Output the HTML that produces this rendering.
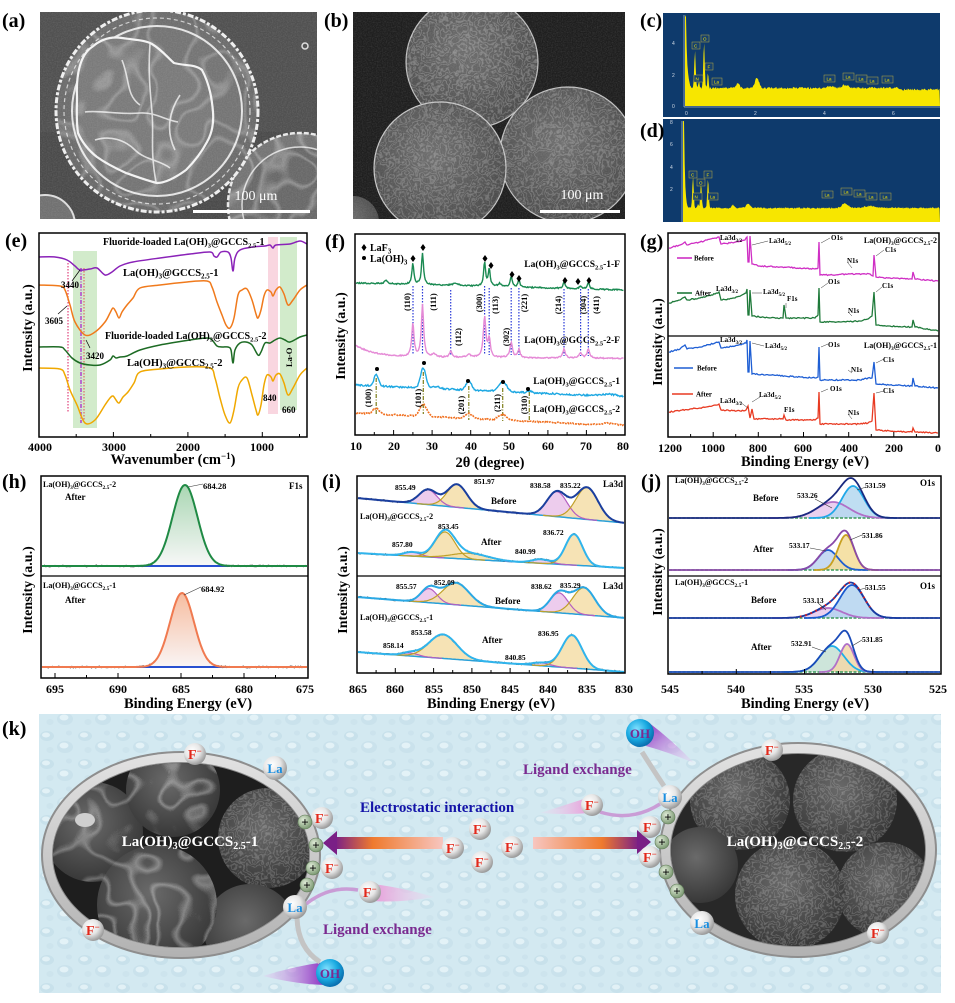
<!DOCTYPE html>
<html><head><meta charset="utf-8">
<style>
html,body{margin:0;padding:0;background:#fff;}
svg{display:block;}
.t{font-family:"Liberation Serif",serif;font-weight:bold;}
</style></head>
<body>
<svg id="fig" width="955" height="1003" viewBox="0 0 955 1003" xmlns="http://www.w3.org/2000/svg">
<defs>
<filter id="wrA" x="0" y="0" width="1" height="1" filterUnits="objectBoundingBox">
 <feTurbulence type="fractalNoise" baseFrequency="0.02" numOctaves="2" seed="4" result="n"/>
 <feColorMatrix in="n" type="matrix" values="0 0 0 0 1  0 0 0 0 1  0 0 0 0 1  1 0 0 0 0" result="m"/>
 <feComponentTransfer in="m" result="r"><feFuncA type="table" tableValues="0 0 0 0 0 0 0 0 .9 0 0 0 .9 0 0 0 0 0 0 0 0"/></feComponentTransfer>
 <feComposite in="r" in2="SourceGraphic" operator="in"/>
</filter>
<filter id="wrB" x="0" y="0" width="1" height="1" filterUnits="objectBoundingBox">
 <feTurbulence type="fractalNoise" baseFrequency="0.08" numOctaves="3" seed="9" result="n"/>
 <feColorMatrix in="n" type="matrix" values="0 0 0 0 1  0 0 0 0 1  0 0 0 0 1  1 0 0 0 0" result="m"/>
 <feComponentTransfer in="m" result="r"><feFuncA type="table" tableValues="0 0 0 0 0 0 0 .7 0 0 .7 0 0 .7 0 0 0 0 0 0 0"/></feComponentTransfer>
 <feComposite in="r" in2="SourceGraphic" operator="in"/>
</filter>
<filter id="grain" x="0" y="0" width="1" height="1" filterUnits="objectBoundingBox">
 <feTurbulence type="fractalNoise" baseFrequency="0.8" numOctaves="1" seed="2" result="n"/>
 <feColorMatrix in="n" type="matrix" values="0 0 0 0 1  0 0 0 0 1  0 0 0 0 1  0 0 0 .2 -0.07" result="m"/>
 <feComposite in="m" in2="SourceGraphic" operator="in"/>
</filter>
<radialGradient id="discA" cx="50%" cy="45%" r="55%"><stop offset="0" stop-color="#7e7e7e"/><stop offset="1" stop-color="#686868"/></radialGradient>
<radialGradient id="discB" cx="45%" cy="40%" r="60%"><stop offset="0" stop-color="#6e6e6e"/><stop offset="1" stop-color="#4a4a4a"/></radialGradient>
<radialGradient id="discK" cx="45%" cy="40%" r="60%"><stop offset="0" stop-color="#6a6a6a"/><stop offset="1" stop-color="#383838"/></radialGradient>
<radialGradient id="ball" cx="38%" cy="35%" r="65%"><stop offset="0" stop-color="#ffffff"/><stop offset="0.55" stop-color="#e6e6e6"/><stop offset="1" stop-color="#9c9c9c"/></radialGradient>
<radialGradient id="plus" cx="38%" cy="35%" r="65%"><stop offset="0" stop-color="#e0ecd8"/><stop offset="1" stop-color="#7d9a74"/></radialGradient>
<radialGradient id="ohb" cx="38%" cy="35%" r="65%"><stop offset="0" stop-color="#7fe0ff"/><stop offset="0.6" stop-color="#18a8e0"/><stop offset="1" stop-color="#0a70b0"/></radialGradient>
<linearGradient id="ring" x1="0" y1="0" x2="0" y2="1"><stop offset="0" stop-color="#e2e2e2"/><stop offset="1" stop-color="#b2b2b2"/></linearGradient>
<linearGradient id="arrL" x1="0" y1="0" x2="1" y2="0"><stop offset="0" stop-color="#7a1f86"/><stop offset="0.35" stop-color="#ef7a2e"/><stop offset="1" stop-color="#f7c6c0"/></linearGradient>
<linearGradient id="arrR" x1="0" y1="0" x2="1" y2="0"><stop offset="0" stop-color="#f7c6c0"/><stop offset="0.65" stop-color="#ef7a2e"/><stop offset="1" stop-color="#7a1f86"/></linearGradient>
<linearGradient id="tailPR" x1="0" y1="0" x2="1" y2="0"><stop offset="0" stop-color="#e79ad8"/><stop offset="1" stop-color="#f3d4ee" stop-opacity="0.2"/></linearGradient>
<linearGradient id="tailPL" x1="1" y1="0" x2="0" y2="0"><stop offset="0" stop-color="#e79ad8"/><stop offset="1" stop-color="#f3d4ee" stop-opacity="0.2"/></linearGradient>
<linearGradient id="tailOL" x1="1" y1="0" x2="0" y2="0"><stop offset="0" stop-color="#8a2ac0"/><stop offset="1" stop-color="#e8c8f0" stop-opacity="0.3"/></linearGradient>
<linearGradient id="tailOR" x1="0" y1="0" x2="1" y2="1"><stop offset="0" stop-color="#8a2ac0"/><stop offset="1" stop-color="#eed4f4" stop-opacity="0.3"/></linearGradient>
<linearGradient id="hG" x1="0" y1="0" x2="0" y2="1"><stop offset="0" stop-color="#94cca0"/><stop offset="1" stop-color="#f6f6f6"/></linearGradient>
<linearGradient id="hO" x1="0" y1="0" x2="0" y2="1"><stop offset="0" stop-color="#f4ac88"/><stop offset="1" stop-color="#f8f2f2"/></linearGradient>
<pattern id="drops" patternUnits="userSpaceOnUse" width="38" height="28">
 <rect width="38" height="28" fill="#d3e9f1"/>
 <ellipse cx="9" cy="8" rx="7" ry="5" fill="#c8e1eb"/>
 <ellipse cx="8" cy="7" rx="4" ry="2.5" fill="#e2f1f6"/>
 <ellipse cx="27" cy="19" rx="8" ry="6" fill="#cae2ec"/>
 <ellipse cx="26" cy="17.5" rx="4.5" ry="3" fill="#e3f2f7"/>
 <ellipse cx="31" cy="5" rx="3" ry="2.5" fill="#cce3ed"/>
 <ellipse cx="12" cy="22" rx="3.5" ry="3" fill="#cde4ed"/>
</pattern>
<clipPath id="cpA"><rect x="40" y="12" width="277" height="207"/></clipPath>
<clipPath id="cpB"><rect x="353" y="12" width="272" height="207"/></clipPath>
<clipPath id="cpKL"><ellipse cx="181" cy="855" rx="128" ry="92"/></clipPath>
<clipPath id="cpKR"><ellipse cx="798" cy="850" rx="127" ry="96"/></clipPath>
</defs>

<rect width="955" height="1003" fill="#fff"/>

<!-- ============ (a) SEM ============ -->
<g clip-path="url(#cpA)">
 <rect x="40" y="12" width="277" height="207" fill="#4a4a4a"/>
 <rect x="40" y="12" width="277" height="120" fill="#555" opacity="0.6"/>
 <circle cx="300" cy="205" r="72" fill="#747474" stroke="#e8e8e8" stroke-width="2.5" stroke-dasharray="5 2"/>
 <circle cx="300" cy="205" r="58" fill="#686868" stroke="#d8d8d8" stroke-width="1.5"/>
 <circle cx="300" cy="205" r="72" fill="#fff" filter="url(#wrA)" opacity="0.3"/>
 <circle cx="45" cy="225" r="30" fill="#707070" stroke="#ddd" stroke-width="2"/>
 <circle cx="157" cy="111" r="101" fill="url(#discA)" stroke="#eeeeee" stroke-width="3" stroke-dasharray="6 2 3 2"/>
 <circle cx="157" cy="111" r="93" fill="none" stroke="#cfcfcf" stroke-width="1.2" stroke-dasharray="4 3"/>
 <circle cx="157" cy="111" r="85" fill="#747474" stroke="#e4e4e4" stroke-width="2"/>
 <path d="M77,97 C76,75 80,55 92,47 C100,40 110,36 122,38 C135,40 145,40 152,44 C162,50 168,58 174,63 C185,66 195,64 202,70 C210,85 212,100 213,112 C214,125 211,135 207,142 C200,155 193,163 186,170 C175,178 165,183 157,183 C145,180 135,176 126,173 C115,168 104,162 97,157 C88,150 82,142 78,133 C76,120 77,108 77,97Z" fill="#7a7a7a" stroke="#f2f2f2" stroke-width="2.2"/>
 <path d="M85,112 C100,110 120,115 140,113 C155,112 165,120 178,122 M150,44 C148,70 150,90 152,112 C154,135 150,150 156,182 M122,60 C130,80 126,95 140,105 M180,95 C170,110 165,130 175,150 M95,140 C110,135 125,140 135,150 C145,160 160,160 170,168" fill="none" stroke="#e6e6e6" stroke-width="1.6" opacity="0.9"/>
 <circle cx="157" cy="111" r="101" fill="#fff" filter="url(#wrA)" opacity="0.25"/>
 <circle cx="305" cy="46" r="3" fill="none" stroke="#ddd" stroke-width="1.5"/>
 <rect x="40" y="12" width="277" height="207" fill="#fff" filter="url(#grain)"/>
 <text x="256" y="200" font-size="14" fill="#fff" font-family="Liberation Serif,serif" text-anchor="middle">100 μm</text>
 <rect x="193" y="210" width="117" height="3" fill="#fff"/>
</g>

<!-- ============ (b) SEM ============ -->
<g clip-path="url(#cpB)">
 <rect x="353" y="12" width="272" height="207" fill="#1e1e1e"/>
 <circle cx="353" cy="222" r="26" fill="url(#discB)"/>
 <circle cx="472" cy="62" r="66" fill="url(#discB)" stroke="#bdbdbd" stroke-width="1.2"/>
 <circle cx="472" cy="62" r="66" fill="#fff" filter="url(#wrB)" opacity="0.35"/>
 <circle cx="568" cy="155" r="68" fill="url(#discB)" stroke="#bdbdbd" stroke-width="1.2"/>
 <circle cx="568" cy="155" r="68" fill="#fff" filter="url(#wrB)" opacity="0.32"/>
 <circle cx="440" cy="168" r="66" fill="url(#discB)" stroke="#c4c4c4" stroke-width="1.2"/>
 <circle cx="440" cy="168" r="66" fill="#fff" filter="url(#wrB)" opacity="0.32"/>
 <rect x="353" y="12" width="272" height="207" fill="#fff" filter="url(#grain)"/>
 <text x="582" y="199" font-size="14" fill="#fff" font-family="Liberation Serif,serif" text-anchor="middle">100 μm</text>
 <rect x="540" y="210" width="80" height="3" fill="#fff"/>
</g>

<!-- ============ (c)(d) EDS ============ -->
<rect x="663" y="13" width="277" height="104" fill="#0e3a6c"/>
<rect x="663" y="119" width="277" height="103" fill="#0e3a6c"/>
<g stroke="#9fb4cc" stroke-width="0.8">
 <line x1="684" y1="15" x2="684" y2="107"/><line x1="684" y1="107" x2="940" y2="107"/>
 <line x1="682" y1="121" x2="682" y2="222"/>
</g>
<path id="edsC" fill="#f7e600"/>
<path id="edsD" fill="#f7e600"/>
<g font-family="Liberation Sans,sans-serif" font-size="5" fill="#cfd8e4">
 <text x="672" y="45">4</text><text x="672" y="77">2</text><text x="672" y="108">0</text>
 <text x="685" y="115">0</text><text x="754" y="115">2</text><text x="823" y="115">4</text><text x="892" y="115">6</text>
 <text x="670" y="124">8</text><text x="670" y="146">6</text><text x="670" y="169">4</text><text x="670" y="191">2</text>
</g>
<g font-family="Liberation Sans,sans-serif" font-size="4.5" fill="#f7e600" stroke="none">
 <g fill="#16406e" stroke="#b8a840" stroke-width="0.5">
  <rect x="692" y="42" width="8" height="7"/><rect x="701" y="35" width="8" height="7"/><rect x="705" y="63" width="8" height="7"/><rect x="694" y="75" width="9" height="7"/><rect x="712" y="78" width="10" height="7"/>
  <rect x="824" y="75" width="11" height="7"/><rect x="843" y="73" width="11" height="7"/><rect x="856" y="75" width="11" height="7"/><rect x="867" y="77" width="11" height="7"/><rect x="882" y="76" width="11" height="7"/>
  <rect x="689" y="171" width="8" height="7"/><rect x="697" y="179" width="8" height="7"/><rect x="704" y="171" width="8" height="7"/><rect x="693" y="193" width="9" height="7"/><rect x="708" y="193" width="10" height="7"/>
  <rect x="822" y="191" width="11" height="7"/><rect x="841" y="188" width="11" height="7"/><rect x="854" y="190" width="11" height="7"/><rect x="866" y="193" width="11" height="7"/><rect x="880" y="193" width="11" height="7"/>
 </g>
 <text x="694" y="47.5">C</text><text x="703" y="40.5">O</text><text x="707.5" y="68.5">F</text><text x="695.5" y="80.5">N</text><text x="714" y="83.5">La</text>
 <text x="826.5" y="80.5">La</text><text x="845.5" y="78.5">La</text><text x="858.5" y="80.5">La</text><text x="869.5" y="82.5">La</text><text x="884.5" y="81.5">La</text>
 <text x="691" y="176.5">C</text><text x="699" y="184.5">O</text><text x="706.5" y="176.5">F</text><text x="694.5" y="198.5">N</text><text x="710" y="198.5">La</text>
 <text x="824.5" y="196.5">La</text><text x="843.5" y="193.5">La</text><text x="856.5" y="195.5">La</text><text x="868.5" y="198.5">La</text><text x="882.5" y="198.5">La</text>
</g>

<!-- panel letters -->
<g class="t" font-size="20" fill="#000">
 <text x="2" y="27">(a)</text><text x="324" y="27">(b)</text><text x="640" y="27">(c)</text><text x="640" y="137">(d)</text>
 <text x="5" y="247">(e)</text><text x="325" y="248">(f)</text><text x="640" y="248">(g)</text>
 <text x="2" y="488">(h)</text><text x="322" y="488">(i)</text><text x="641" y="488">(j)</text>
 <text x="2" y="735">(k)</text>
</g>

<!-- ============ (e) FTIR ============ -->
<rect x="73" y="251" width="24" height="177" fill="#d2ebcb"/>
<rect x="268" y="237" width="10" height="177" fill="#f9d6e0"/>
<rect x="280" y="237" width="17" height="173" fill="#d2ebcb"/>
<line x1="68" y1="263" x2="68" y2="412" stroke="#e0407a" stroke-width="1.2" stroke-dasharray="1.5 1.5"/>
<line x1="81" y1="268" x2="81" y2="423" stroke="#b040d0" stroke-width="1.5" stroke-dasharray="4 1.5 1 1.5"/>
<line x1="84" y1="268" x2="84" y2="423" stroke="#e05050" stroke-width="1" stroke-dasharray="1.5 1.5"/>
<path id="e1" fill="none" stroke="#8a22b8" stroke-width="1.5"/>
<path id="e2" fill="none" stroke="#f07a1c" stroke-width="1.5"/>
<path id="e3" fill="none" stroke="#1d6b24" stroke-width="1.5"/>
<path id="e4" fill="none" stroke="#f0a800" stroke-width="1.5"/>
<g class="t" fill="#000">
 <text x="103" y="245" font-size="10">Fluoride-loaded La(OH)<tspan dy="2.5" font-size="6.5">3</tspan><tspan dy="-2.5">@GCCS</tspan><tspan dy="2.5" font-size="6.5">2.5</tspan><tspan dy="-2.5">-1</tspan></text>
 <text x="123" y="276" font-size="10.5">La(OH)<tspan dy="2.5" font-size="7">3</tspan><tspan dy="-2.5">@GCCS</tspan><tspan dy="2.5" font-size="7">2.5</tspan><tspan dy="-2.5">-1</tspan></text>
 <text x="105" y="339" font-size="10">Fluoride-loaded La(OH)<tspan dy="2.5" font-size="6.5">3</tspan><tspan dy="-2.5">@GCCS</tspan><tspan dy="2.5" font-size="6.5">2.5</tspan><tspan dy="-2.5">-2</tspan></text>
 <text x="127" y="366" font-size="10.5">La(OH)<tspan dy="2.5" font-size="7">3</tspan><tspan dy="-2.5">@GCCS</tspan><tspan dy="2.5" font-size="7">2.5</tspan><tspan dy="-2.5">-2</tspan></text>
 <text x="61" y="288" font-size="9">3440</text>
 <text x="45" y="324" font-size="9">3605</text>
 <text x="86" y="359" font-size="9">3420</text>
 <text x="263" y="401" font-size="9">840</text>
 <text x="282" y="413" font-size="9">660</text>
 <text transform="translate(292,367) rotate(-90)" font-size="8.5">La-O</text>
</g>
<g stroke="#000" stroke-width="0.7" fill="none">
 <line x1="72" y1="281" x2="80" y2="270"/><line x1="58" y1="314" x2="67" y2="306"/><line x1="90" y1="348" x2="86" y2="340"/>
</g>
<rect x="39" y="233" width="268" height="204" fill="none" stroke="#000" stroke-width="1.5"/>
<g stroke="#000" stroke-width="1">
 <line x1="76.2" y1="437" x2="76.2" y2="434"/><line x1="113.4" y1="437" x2="113.4" y2="432"/><line x1="150.7" y1="437" x2="150.7" y2="434"/><line x1="187.9" y1="437" x2="187.9" y2="432"/><line x1="225.1" y1="437" x2="225.1" y2="434"/><line x1="262.3" y1="437" x2="262.3" y2="432"/><line x1="299.5" y1="437" x2="299.5" y2="434"/>
</g>
<g class="t" font-size="12" text-anchor="middle">
 <text x="40" y="451">4000</text><text x="114" y="451">3000</text><text x="188" y="451">2000</text><text x="262" y="451">1000</text>
</g>
<text class="t" x="173" y="464" font-size="14.5" text-anchor="middle">Wavenumber (cm<tspan dy="-5" font-size="9">−1</tspan><tspan dy="5">)</tspan></text>
<text class="t" transform="translate(32,328) rotate(-90)" font-size="14" text-anchor="middle">Intensity (a.u.)</text>

<!-- ============ (f) XRD ============ -->
<g stroke-width="1.2" fill="none">
 <g stroke="#2a3ad8" stroke-dasharray="1.5 1.5">
  <line x1="413" y1="286" x2="413" y2="355"/><line x1="422.5" y1="286" x2="422.5" y2="355"/><line x1="450.7" y1="290" x2="450.7" y2="355"/>
  <line x1="484.6" y1="286" x2="484.6" y2="355"/><line x1="489.2" y1="288" x2="489.2" y2="355"/><line x1="511.2" y1="288" x2="511.2" y2="355"/>
  <line x1="518.9" y1="288" x2="518.9" y2="355"/><line x1="564" y1="289" x2="564" y2="356"/><line x1="580.6" y1="289" x2="580.6" y2="356"/><line x1="588.3" y1="289" x2="588.3" y2="356"/>
 </g>
 <g stroke="#7d7d18" stroke-dasharray="4 1.5 1 1.5">
  <line x1="376.2" y1="378" x2="376.2" y2="414"/><line x1="423.3" y1="372" x2="423.3" y2="414"/><line x1="468.8" y1="386" x2="468.8" y2="420"/><line x1="502.7" y1="388" x2="502.7" y2="421"/><line x1="529.3" y1="392" x2="529.3" y2="422"/>
 </g>
</g>
<path id="f1" fill="none" stroke="#1b8a52" stroke-width="1.4"/>
<path id="f2" fill="none" stroke="#e58ad6" stroke-width="1.4"/>
<path id="f3" fill="none" stroke="#1ea8e2" stroke-width="1.4"/>
<path id="f4" fill="none" stroke="#f07020" stroke-width="1.6" stroke-dasharray="2 1"/>
<g fill="#000">
 <path d="M413,255l2.5,3.5l-2.5,3.5l-2.5,-3.5z M423,244l2.5,3.5l-2.5,3.5l-2.5,-3.5z M485,255l2.5,3.5l-2.5,3.5l-2.5,-3.5z M491,262l2.5,3.5l-2.5,3.5l-2.5,-3.5z M512,271l2.5,3.5l-2.5,3.5l-2.5,-3.5z M519,275l2.5,3.5l-2.5,3.5l-2.5,-3.5z M565,277l2.5,3.5l-2.5,3.5l-2.5,-3.5z M578,278l2.5,3.5l-2.5,3.5l-2.5,-3.5z M589,277l2.5,3.5l-2.5,3.5l-2.5,-3.5z M364,244l2.5,3.5l-2.5,3.5l-2.5,-3.5z"/>
 <circle cx="377" cy="369" r="2"/><circle cx="424" cy="363" r="2"/><circle cx="468" cy="381" r="2"/><circle cx="503" cy="382" r="2"/><circle cx="528" cy="389" r="2"/><circle cx="364" cy="258" r="2"/>
</g>
<g class="t" font-size="10">
 <text x="370" y="251">LaF<tspan dy="2.5" font-size="7">3</tspan></text>
 <text x="370" y="262">La(OH)<tspan dy="2.5" font-size="7">3</tspan></text>
</g>
<g class="t" font-size="9.5" text-anchor="end">
 <text x="620" y="267">La(OH)<tspan dy="2.5" font-size="6.5">3</tspan><tspan dy="-2.5">@GCCS</tspan><tspan dy="2.5" font-size="6.5">2.5</tspan><tspan dy="-2.5">-1-F</tspan></text>
 <text x="620" y="343">La(OH)<tspan dy="2.5" font-size="6.5">3</tspan><tspan dy="-2.5">@GCCS</tspan><tspan dy="2.5" font-size="6.5">2.5</tspan><tspan dy="-2.5">-2-F</tspan></text>
 <text x="620" y="384">La(OH)<tspan dy="2.5" font-size="6.5">3</tspan><tspan dy="-2.5">@GCCS</tspan><tspan dy="2.5" font-size="6.5">2.5</tspan><tspan dy="-2.5">-1</tspan></text>
 <text x="620" y="412">La(OH)<tspan dy="2.5" font-size="6.5">3</tspan><tspan dy="-2.5">@GCCS</tspan><tspan dy="2.5" font-size="6.5">2.5</tspan><tspan dy="-2.5">-2</tspan></text>
</g>
<g class="t" font-size="8.5" text-anchor="middle">
 <text transform="translate(410,302) rotate(-90)">(110)</text><text transform="translate(436,302) rotate(-90)">(111)</text>
 <text transform="translate(461,337) rotate(-90)">(112)</text><text transform="translate(482,303) rotate(-90)">(300)</text>
 <text transform="translate(498,305) rotate(-90)">(113)</text><text transform="translate(509,337) rotate(-90)">(302)</text>
 <text transform="translate(527,303) rotate(-90)">(221)</text><text transform="translate(561,305) rotate(-90)">(214)</text>
 <text transform="translate(586,305) rotate(-90)">(304)</text><text transform="translate(599,305) rotate(-90)">(411)</text>
 <text transform="translate(371,398) rotate(-90)">(100)</text><text transform="translate(421,398) rotate(-90)">(101)</text>
 <text transform="translate(464,405) rotate(-90)">(201)</text><text transform="translate(500,403) rotate(-90)">(211)</text>
 <text transform="translate(527,405) rotate(-90)">(310)</text>
</g>
<rect x="355" y="234" width="270" height="201" fill="none" stroke="#000" stroke-width="1.5"/>
<g stroke="#000" stroke-width="1">
 <line x1="374.3" y1="435" x2="374.3" y2="432"/><line x1="393.6" y1="435" x2="393.6" y2="430"/><line x1="412.9" y1="435" x2="412.9" y2="432"/><line x1="432.1" y1="435" x2="432.1" y2="430"/><line x1="451.4" y1="435" x2="451.4" y2="432"/><line x1="470.7" y1="435" x2="470.7" y2="430"/><line x1="490" y1="435" x2="490" y2="432"/><line x1="509.3" y1="435" x2="509.3" y2="430"/><line x1="528.6" y1="435" x2="528.6" y2="432"/><line x1="547.9" y1="435" x2="547.9" y2="430"/><line x1="567.1" y1="435" x2="567.1" y2="432"/><line x1="586.4" y1="435" x2="586.4" y2="430"/><line x1="605.7" y1="435" x2="605.7" y2="432"/>
</g>
<g class="t" font-size="12" text-anchor="middle">
 <text x="356" y="450">10</text><text x="394" y="450">20</text><text x="432" y="450">30</text><text x="471" y="450">40</text><text x="509" y="450">50</text><text x="548" y="450">60</text><text x="586" y="450">70</text><text x="623" y="450">80</text>
</g>
<text class="t" x="490" y="467" font-size="14.5" text-anchor="middle">2θ (degree)</text>
<text class="t" transform="translate(345,336) rotate(-90)" font-size="14" text-anchor="middle">Intensity (a.u.)</text>

<!-- ============ (g) XPS survey ============ -->
<path id="g1" fill="none" stroke="#cf2fc4" stroke-width="1.3"/>
<path id="g2" fill="none" stroke="#1f7a3a" stroke-width="1.3"/>
<path id="g3" fill="none" stroke="#1f5fd4" stroke-width="1.3"/>
<path id="g4" fill="none" stroke="#e83a22" stroke-width="1.3"/>
<line x1="668" y1="336" x2="939" y2="336" stroke="#000" stroke-width="1.3"/>
<g stroke-width="1.6"><line x1="677" y1="258" x2="692" y2="258" stroke="#cf2fc4"/><line x1="677" y1="293" x2="692" y2="293" stroke="#1f7a3a"/><line x1="674" y1="368" x2="693" y2="368" stroke="#1f5fd4"/><line x1="672" y1="394" x2="693" y2="394" stroke="#e83a22"/></g>
<g stroke="#333" stroke-width="0.5" fill="none">
 <path d="M752,245 L768,241 M821,243 L830,238 M876,256 L884,250 M852,268 L848,263"/>
 <path d="M752,293 L762,293 M786,303 L786,308 M821,288 L828,283 M876,292 L882,287 M852,316 L848,312"/>
 <path d="M752,343 L764,346 M821,347 L828,344 M876,363 L884,359 M852,373 L848,370"/>
 <path d="M740,402 L748,408 M752,402 L760,397 M821,392 L828,389 M876,393 L884,391 M852,419 L848,414"/>
</g>
<g class="t" font-size="7">
 <text x="720" y="240">La3d<tspan dy="2" font-size="5">3/2</tspan></text>
 <text x="769" y="243">La3d<tspan dy="2" font-size="5">5/2</tspan></text>
 <text x="831" y="240">O1s</text><text x="885" y="252">C1s</text><text x="847" y="263">N1s</text>
 <text x="694" y="260.5">Before</text>
 <text x="937" y="243" text-anchor="end" font-size="8">La(OH)<tspan dy="2" font-size="5.5">3</tspan><tspan dy="-2">@GCCS</tspan><tspan dy="2" font-size="5.5">2.5</tspan><tspan dy="-2">-2</tspan></text>
 <text x="695" y="295.5">After</text>
 <text x="716" y="291">La3d<tspan dy="2" font-size="5">3/2</tspan></text>
 <text x="763" y="294">La3d<tspan dy="2" font-size="5">5/2</tspan></text>
 <text x="787" y="301">F1s</text><text x="828" y="284">O1s</text><text x="882" y="288">C1s</text><text x="848" y="313">N1s</text>
 <text x="720" y="342">La3d<tspan dy="2" font-size="5">3/2</tspan></text>
 <text x="765" y="348">La3d<tspan dy="2" font-size="5">5/2</tspan></text>
 <text x="828" y="347">O1s</text><text x="883" y="362">C1s</text><text x="851" y="372">N1s</text>
 <text x="937" y="348" text-anchor="end" font-size="8">La(OH)<tspan dy="2" font-size="5.5">3</tspan><tspan dy="-2">@GCCS</tspan><tspan dy="2" font-size="5.5">2.5</tspan><tspan dy="-2">-1</tspan></text>
 <text x="697" y="370.5">Before</text>
 <text x="696" y="396.5">After</text>
 <text x="720" y="403">La3d<tspan dy="2" font-size="5">3/2</tspan></text>
 <text x="759" y="397">La3d<tspan dy="2" font-size="5">5/2</tspan></text>
 <text x="784" y="412">F1s</text><text x="830" y="391">O1s</text><text x="883" y="393">C1s</text><text x="848" y="415">N1s</text>
</g>
<rect x="668" y="233" width="271" height="204" fill="none" stroke="#000" stroke-width="1.5"/>
<g stroke="#000" stroke-width="1">
 <line x1="690.6" y1="437" x2="690.6" y2="434"/><line x1="713.2" y1="437" x2="713.2" y2="432"/><line x1="735.7" y1="437" x2="735.7" y2="434"/><line x1="758.3" y1="437" x2="758.3" y2="432"/><line x1="780.9" y1="437" x2="780.9" y2="434"/><line x1="803.5" y1="437" x2="803.5" y2="432"/><line x1="826.1" y1="437" x2="826.1" y2="434"/><line x1="848.7" y1="437" x2="848.7" y2="432"/><line x1="871.3" y1="437" x2="871.3" y2="434"/><line x1="893.8" y1="437" x2="893.8" y2="432"/><line x1="916.4" y1="437" x2="916.4" y2="434"/>
</g>
<g class="t" font-size="12" text-anchor="middle">
 <text x="670" y="452">1200</text><text x="713" y="452">1000</text><text x="758" y="452">800</text><text x="803" y="452">600</text><text x="849" y="452">400</text><text x="894" y="452">200</text><text x="938" y="452">0</text>
</g>
<text class="t" x="805" y="466" font-size="14.5" text-anchor="middle">Binding Energy (eV)</text>
<text class="t" transform="translate(662,342) rotate(-90)" font-size="14" text-anchor="middle">Intensity (a.u.)</text>

<!-- ============ (h) F1s ============ -->
<path id="h1f" fill="url(#hG)" opacity="0.8"/>
<path id="h2f" fill="url(#hO)" opacity="0.8"/>
<line x1="130" y1="566" x2="230" y2="566" stroke="#2850d0" stroke-width="2"/>
<line x1="130" y1="667" x2="230" y2="667" stroke="#2850d0" stroke-width="2"/>
<path id="h1d" fill="none" stroke="#555" stroke-width="0.8"/>
<path id="h2d" fill="none" stroke="#555" stroke-width="0.8"/>
<path id="h1" fill="none" stroke="#1f8a44" stroke-width="2"/>
<path id="h2" fill="none" stroke="#f07a50" stroke-width="2"/>
<line x1="41" y1="576" x2="308" y2="576" stroke="#000" stroke-width="1.3"/>
<g stroke="#333" stroke-width="0.6"><line x1="188" y1="487" x2="203" y2="484"/><line x1="184" y1="595" x2="201" y2="587"/></g>
<g class="t">
 <text x="43" y="487" font-size="8">La(OH)<tspan dy="2" font-size="5.5">3</tspan><tspan dy="-2">@GCCS</tspan><tspan dy="2" font-size="5.5">2.5</tspan><tspan dy="-2">-2</tspan></text>
 <text x="65" y="500" font-size="9">After</text>
 <text x="289" y="489" font-size="9">F1s</text>
 <text x="203" y="489" font-size="8.5">684.28</text>
 <text x="43" y="588" font-size="8">La(OH)<tspan dy="2" font-size="5.5">3</tspan><tspan dy="-2">@GCCS</tspan><tspan dy="2" font-size="5.5">2.5</tspan><tspan dy="-2">-1</tspan></text>
 <text x="65" y="603" font-size="9">After</text>
 <text x="201" y="592" font-size="8.5">684.92</text>
</g>
<rect x="41" y="476" width="267" height="202" fill="none" stroke="#000" stroke-width="1.5"/>
<g stroke="#000" stroke-width="1">
 <line x1="55" y1="678" x2="55" y2="673"/><line x1="86.5" y1="678" x2="86.5" y2="675"/><line x1="118" y1="678" x2="118" y2="673"/><line x1="149.5" y1="678" x2="149.5" y2="675"/><line x1="181" y1="678" x2="181" y2="673"/><line x1="212.5" y1="678" x2="212.5" y2="675"/><line x1="244" y1="678" x2="244" y2="673"/><line x1="275.5" y1="678" x2="275.5" y2="675"/>
</g>
<g class="t" font-size="12" text-anchor="middle">
 <text x="55" y="693">695</text><text x="118" y="693">690</text><text x="181" y="693">685</text><text x="244" y="693">680</text><text x="305" y="693">675</text>
</g>
<text class="t" x="188" y="708" font-size="14.5" text-anchor="middle">Binding Energy (eV)</text>
<text class="t" transform="translate(32,590) rotate(-90)" font-size="14" text-anchor="middle">Intensity (a.u.)</text>

<!-- ============ (i) La3d ============ -->
<g id="iG"></g>
<line x1="357" y1="576" x2="625" y2="576" stroke="#000" stroke-width="1.3"/>
<g class="t" font-size="7.5">
 <text x="395" y="490">855.49</text><text x="474" y="484">851.97</text><text x="530" y="488">838.58</text><text x="560" y="488">835.22</text>
 <text x="603" y="487" font-size="9">La3d</text><text x="491" y="504" font-size="9">Before</text>
 <text x="360" y="519" font-size="8">La(OH)<tspan dy="2" font-size="5.5">3</tspan><tspan dy="-2">@GCCS</tspan><tspan dy="2" font-size="5.5">2.5</tspan><tspan dy="-2">-2</tspan></text>
 <text x="438" y="529">853.45</text><text x="392" y="547">857.80</text><text x="481" y="545" font-size="9">After</text><text x="515" y="554">840.99</text><text x="543" y="535">836.72</text>
 <text x="396" y="589">855.57</text><text x="434" y="585">852.09</text><text x="531" y="589">838.62</text><text x="560" y="588">835.29</text>
 <text x="603" y="589" font-size="9">La3d</text><text x="495" y="604" font-size="9">Before</text>
 <text x="360" y="620" font-size="8">La(OH)<tspan dy="2" font-size="5.5">3</tspan><tspan dy="-2">@GCCS</tspan><tspan dy="2" font-size="5.5">2.5</tspan><tspan dy="-2">-1</tspan></text>
 <text x="411" y="635">853.58</text><text x="383" y="648">858.14</text><text x="482" y="643" font-size="9">After</text><text x="505" y="660">840.85</text><text x="538" y="636">836.95</text>
</g>
<rect x="357" y="476" width="268" height="197" fill="none" stroke="#000" stroke-width="1.5"/>
<g stroke="#000" stroke-width="1">
 <line x1="376.1" y1="673" x2="376.1" y2="670"/><line x1="395.3" y1="673" x2="395.3" y2="668"/><line x1="414.4" y1="673" x2="414.4" y2="670"/><line x1="433.6" y1="673" x2="433.6" y2="668"/><line x1="452.7" y1="673" x2="452.7" y2="670"/><line x1="471.9" y1="673" x2="471.9" y2="668"/><line x1="491" y1="673" x2="491" y2="670"/><line x1="510.1" y1="673" x2="510.1" y2="668"/><line x1="529.3" y1="673" x2="529.3" y2="670"/><line x1="548.4" y1="673" x2="548.4" y2="668"/><line x1="567.6" y1="673" x2="567.6" y2="670"/><line x1="586.7" y1="673" x2="586.7" y2="668"/><line x1="605.9" y1="673" x2="605.9" y2="670"/>
</g>
<g class="t" font-size="12" text-anchor="middle">
 <text x="358" y="693">865</text><text x="395" y="693">860</text><text x="434" y="693">855</text><text x="472" y="693">850</text><text x="510" y="693">845</text><text x="548" y="693">840</text><text x="587" y="693">835</text><text x="624" y="693">830</text>
</g>
<text class="t" x="491" y="708" font-size="14.5" text-anchor="middle">Binding Energy (eV)</text>
<text class="t" transform="translate(347,590) rotate(-90)" font-size="14" text-anchor="middle">Intensity (a.u.)</text>

<!-- ============ (j) O1s ============ -->
<g id="jG"></g>
<line x1="668" y1="576" x2="941" y2="576" stroke="#000" stroke-width="1.3"/>
<g class="t" font-size="7.5">
 <text x="675" y="483" font-size="8">La(OH)<tspan dy="2" font-size="5.5">3</tspan><tspan dy="-2">@GCCS</tspan><tspan dy="2" font-size="5.5">2.5</tspan><tspan dy="-2">-2</tspan></text>
 <text x="920" y="486" font-size="9">O1s</text>
 <text x="753" y="501" font-size="9">Before</text>
 <text x="797" y="498">533.26</text><text x="865" y="488">531.59</text>
 <text x="753" y="552" font-size="9">After</text><text x="789" y="548">533.17</text><text x="862" y="538">531.86</text>
 <text x="675" y="585" font-size="8">La(OH)<tspan dy="2" font-size="5.5">3</tspan><tspan dy="-2">@GCCS</tspan><tspan dy="2" font-size="5.5">2.5</tspan><tspan dy="-2">-1</tspan></text>
 <text x="920" y="589" font-size="9">O1s</text>
 <text x="751" y="603" font-size="9">Before</text><text x="803" y="603">533.13</text><text x="865" y="590">531.55</text>
 <text x="751" y="650" font-size="9">After</text><text x="791" y="646">532.91</text><text x="862" y="642">531.85</text>
</g>
<g stroke="#333" stroke-width="0.6" fill="none">
 <path d="M815,499 L832,508 M866,487 L857,490 M810,548 L826,551 M862,535 L850,540 M818,603 L826,610 M866,588 L858,590 M812,647 L826,652 M862,640 L852,646"/>
</g>
<rect x="668" y="476" width="273" height="198" fill="none" stroke="#000" stroke-width="1.5"/>
<g stroke="#000" stroke-width="1">
 <line x1="702.1" y1="674" x2="702.1" y2="671"/><line x1="736.3" y1="674" x2="736.3" y2="669"/><line x1="770.4" y1="674" x2="770.4" y2="671"/><line x1="804.5" y1="674" x2="804.5" y2="669"/><line x1="838.6" y1="674" x2="838.6" y2="671"/><line x1="872.8" y1="674" x2="872.8" y2="669"/><line x1="906.9" y1="674" x2="906.9" y2="671"/>
</g>
<g class="t" font-size="12" text-anchor="middle">
 <text x="670" y="693">545</text><text x="736" y="693">540</text><text x="804" y="693">535</text><text x="873" y="693">530</text><text x="938" y="693">525</text>
</g>
<text class="t" x="805" y="708" font-size="14.5" text-anchor="middle">Binding Energy (eV)</text>
<text class="t" transform="translate(662,572) rotate(-90)" font-size="14" text-anchor="middle">Intensity (a.u.)</text>

<!-- ============ (k) schematic ============ -->
<rect x="39" y="714" width="902" height="279" fill="url(#drops)"/>
<!-- left ellipse -->
<ellipse cx="181" cy="855" rx="140" ry="104" fill="#8e8e8e"/>
<ellipse cx="181" cy="855" rx="138" ry="102" fill="url(#ring)"/>
<ellipse cx="181" cy="855" rx="129" ry="93" fill="#8a8a8a"/>
<ellipse cx="181" cy="855" rx="128" ry="92" fill="#1e1e1e"/>
<g clip-path="url(#cpKL)">
 <circle cx="93" cy="832" r="50" fill="url(#discK)"/><circle cx="93" cy="832" r="50" fill="#fff" filter="url(#wrA)" opacity="0.3"/>
 <circle cx="173" cy="790" r="47" fill="url(#discK)"/><circle cx="173" cy="790" r="47" fill="#fff" filter="url(#wrA)" opacity="0.35"/>
 <circle cx="268" cy="838" r="50" fill="url(#discK)"/><circle cx="268" cy="838" r="50" fill="#fff" filter="url(#wrB)" opacity="0.3"/>
 <circle cx="250" cy="930" r="46" fill="url(#discK)"/>
 <circle cx="157" cy="905" r="60" fill="url(#discK)"/><circle cx="157" cy="905" r="60" fill="#fff" filter="url(#wrA)" opacity="0.35"/>
 <ellipse cx="85" cy="820" rx="10" ry="7" fill="#cfcfcf"/>
</g>
<text class="t" x="190" y="846" font-size="15" fill="#fff" text-anchor="middle">La(OH)<tspan dy="3" font-size="10">3</tspan><tspan dy="-3">@GCCS</tspan><tspan dy="3" font-size="10">2.5</tspan><tspan dy="-3">-1</tspan></text>
<!-- right ellipse -->
<ellipse cx="798" cy="850" rx="139" ry="108" fill="#8e8e8e"/>
<ellipse cx="798" cy="850" rx="137" ry="106" fill="url(#ring)"/>
<ellipse cx="798" cy="850" rx="128" ry="97" fill="#8a8a8a"/>
<ellipse cx="798" cy="850" rx="127" ry="96" fill="#282828"/>
<g clip-path="url(#cpKR)">
 <circle cx="740" cy="800" r="50" fill="url(#discK)"/><circle cx="740" cy="800" r="50" fill="#fff" filter="url(#wrB)" opacity="0.3"/>
 <circle cx="845" cy="800" r="52" fill="url(#discK)"/><circle cx="845" cy="800" r="52" fill="#fff" filter="url(#wrB)" opacity="0.3"/>
 <circle cx="700" cy="865" r="38" fill="url(#discK)"/>
 <circle cx="885" cy="890" r="48" fill="url(#discK)"/><circle cx="885" cy="890" r="48" fill="#fff" filter="url(#wrB)" opacity="0.3"/>
 <circle cx="790" cy="895" r="55" fill="url(#discK)"/><circle cx="790" cy="895" r="55" fill="#fff" filter="url(#wrB)" opacity="0.32"/>
</g>
<text class="t" x="795" y="846" font-size="15" fill="#fff" text-anchor="middle">La(OH)<tspan dy="3" font-size="10">3</tspan><tspan dy="-3">@GCCS</tspan><tspan dy="3" font-size="10">2.5</tspan><tspan dy="-3">-2</tspan></text>

<!-- arrows -->
<rect x="335" y="837" width="108" height="12" fill="url(#arrL)"/>
<polygon points="323,843 337,831 337,855" fill="#7a1f86"/>
<rect x="533" y="837" width="106" height="12" fill="url(#arrR)"/>
<polygon points="651,842 637,830 637,854" fill="#7a1f86"/>
<!-- tails -->
<path d="M372,884 Q400,887 434,897 Q400,903 372,901Z" fill="url(#tailPR)"/>
<path d="M590,797 Q565,805 540,813 Q565,815 590,813Z" fill="url(#tailPL)"/>
<path d="M325,962 Q295,966 263,976 Q295,984 325,985Z" fill="url(#tailOL)"/>
<path d="M648,722 Q672,740 694,763 Q668,752 646,746Z" fill="url(#tailOR)"/>
<!-- curved arrows -->
<path d="M297,918 Q298,948 320,962" fill="none" stroke="#c4c4c4" stroke-width="5"/>
<path d="M306,904 Q330,885 358,890" fill="none" stroke="#c88ad0" stroke-width="3.5" opacity="0.8"/>
<path d="M664,786 Q652,768 642,752" fill="none" stroke="#c4c4c4" stroke-width="5"/>
<path d="M600,812 Q632,822 660,804" fill="none" stroke="#c88ad0" stroke-width="3.5" opacity="0.8"/>

<!-- balls -->
<g>
 <g fill="url(#ball)">
  <circle cx="195" cy="754" r="11"/><circle cx="322" cy="818" r="11"/><circle cx="332" cy="868" r="11"/><circle cx="93" cy="930" r="11"/><circle cx="370" cy="892" r="11"/>
  <circle cx="453" cy="848" r="11"/><circle cx="480" cy="829" r="11"/><circle cx="482" cy="862" r="11"/><circle cx="512" cy="847" r="11"/><circle cx="592" cy="805" r="11"/>
  <circle cx="650" cy="827" r="11"/><circle cx="650" cy="857" r="11"/><circle cx="772" cy="750" r="11"/><circle cx="878" cy="933" r="11"/>
  <circle cx="275" cy="768" r="12"/><circle cx="295" cy="907" r="12"/><circle cx="670" cy="797" r="12"/><circle cx="702" cy="923" r="12"/>
 </g>
 <g fill="url(#plus)" stroke="#5e7a56" stroke-width="0.6">
  <circle cx="305" cy="822" r="7"/><circle cx="316" cy="845" r="7"/><circle cx="313" cy="868" r="7"/><circle cx="307" cy="885" r="7"/>
  <circle cx="668" cy="817" r="7"/><circle cx="662" cy="842" r="7"/><circle cx="666" cy="872" r="7"/><circle cx="677" cy="891" r="7"/>
 </g>
 <circle cx="330" cy="973" r="14" fill="url(#ohb)"/><circle cx="640" cy="733" r="14" fill="url(#ohb)"/>
 <g class="t" font-size="13" fill="#000" text-anchor="middle">
  <text x="305" y="826.5">+</text><text x="316" y="849.5">+</text><text x="313" y="872.5">+</text><text x="307" y="889.5">+</text>
  <text x="668" y="821.5">+</text><text x="662" y="846.5">+</text><text x="666" y="876.5">+</text><text x="677" y="895.5">+</text>
 </g>
 <g class="t" font-size="13" fill="#1a8ee0" text-anchor="middle">
  <text x="275" y="773">La</text><text x="295" y="912">La</text><text x="670" y="802">La</text><text x="702" y="928">La</text>
 </g>
 <g class="t" font-size="13" fill="#7a2a90" text-anchor="middle">
  <text x="330" y="978">OH</text><text x="640" y="738">OH</text>
 </g>
 <g class="t" font-size="14" fill="#e2281a">
  <text x="188" y="759">F<tspan dy="-5" font-size="9">−</tspan></text>
  <text x="315" y="823">F<tspan dy="-5" font-size="9">−</tspan></text>
  <text x="325" y="873">F<tspan dy="-5" font-size="9">−</tspan></text>
  <text x="86" y="935">F<tspan dy="-5" font-size="9">−</tspan></text>
  <text x="363" y="897">F<tspan dy="-5" font-size="9">−</tspan></text>
  <text x="446" y="853">F<tspan dy="-5" font-size="9">−</tspan></text>
  <text x="473" y="834">F<tspan dy="-5" font-size="9">−</tspan></text>
  <text x="475" y="867">F<tspan dy="-5" font-size="9">−</tspan></text>
  <text x="505" y="852">F<tspan dy="-5" font-size="9">−</tspan></text>
  <text x="585" y="810">F<tspan dy="-5" font-size="9">−</tspan></text>
  <text x="643" y="832">F<tspan dy="-5" font-size="9">−</tspan></text>
  <text x="643" y="862">F<tspan dy="-5" font-size="9">−</tspan></text>
  <text x="765" y="755">F<tspan dy="-5" font-size="9">−</tspan></text>
  <text x="871" y="938">F<tspan dy="-5" font-size="9">−</tspan></text>
 </g>
</g>
<text class="t" x="360" y="812" font-size="15" fill="#1414a8">Electrostatic interaction</text>
<text class="t" x="323" y="934" font-size="15" fill="#7a2a90">Ligand exchange</text>
<text class="t" x="523" y="774" font-size="15" fill="#7a2a90">Ligand exchange</text>
</svg>

<script>
(function(){
var s=12345;function R(){s=(s*16807)%2147483647;return s/2147483647-0.5;}
function G(x,m,w){var d=(x-m)/w;return Math.exp(-0.5*d*d);}
function Lz(x,m,w){var d=(x-m)/w;return 1/(1+d*d);}
function fp(f,x0,x1,st){var d='';for(var x=x0;x<=x1+1e-9;x+=st){d+=(d?'L':'M')+x.toFixed(1)+','+f(x).toFixed(1);}return d;}
function area(ft,fb,x0,x1,st){var a=[],b=[];for(var x=x0;x<=x1+1e-9;x+=st){a.push(x.toFixed(1)+','+ft(x).toFixed(1));b.push(x.toFixed(1)+','+fb(x).toFixed(1));}return 'M'+a.join('L')+'L'+b.reverse().join('L')+'Z';}
function sm(p){var d='M'+p[0][0]+','+p[0][1];for(var i=0;i<p.length-1;i++){var p0=p[i-1]||p[i],p1=p[i],p2=p[i+1],p3=p[i+2]||p2;
 var c1x=p1[0]+(p2[0]-p0[0])/6,c1y=p1[1]+(p2[1]-p0[1])/6,c2x=p2[0]-(p3[0]-p1[0])/6,c2y=p2[1]-(p3[1]-p1[1])/6;
 d+='C'+c1x.toFixed(1)+','+c1y.toFixed(1)+' '+c2x.toFixed(1)+','+c2y.toFixed(1)+' '+p2[0]+','+p2[1];}return d;}
function dense(p,st,nz){var out=[];for(var i=0;i<p.length-1;i++){var x0=p[i][0],y0=p[i][1],x1=p[i+1][0],y1=p[i+1][1];var n=Math.max(1,Math.round((x1-x0)/st));for(var k=0;k<n;k++){var t=k/n;out.push([x0+(x1-x0)*t,y0+(y1-y0)*t+(k?R()*nz:0)]);}}out.push(p[p.length-1]);return 'M'+out.map(function(q){return q[0].toFixed(1)+','+q[1].toFixed(1);}).join('L');}
function S(id,d){var e=document.getElementById(id);if(e)e.setAttribute('d',d);}
var NS='http://www.w3.org/2000/svg';
function add(g,d,fill,stroke,sw,op,dash){var e=document.createElementNS(NS,'path');e.setAttribute('d',d);e.setAttribute('fill',fill||'none');if(stroke){e.setAttribute('stroke',stroke);e.setAttribute('stroke-width',sw||1);}if(op)e.setAttribute('opacity',op);if(dash)e.setAttribute('stroke-dasharray',dash);g.appendChild(e);}

/* EDS */
S('edsC',(function(){var d='M685,106L685,15';for(var x=686;x<=940;x+=0.7){var y=88+R()*2.2;y-=70*Math.exp(-(x-686)/1.3);y-=38*G(x,695,0.7)+46*G(x,704,0.7)+16*G(x,708,0.6)+6*G(x,699,0.6)+5*G(x,738,1.5)+10*G(x,757,2)+3*G(x,845,3)+2*G(x,830,3);if(x>900)y+=1.5;d+='L'+x.toFixed(1)+','+Math.max(14,y).toFixed(1);}return d+'L940,106Z';})());
S('edsD',(function(){var d='M683,222L683,121';for(var x=684;x<=940;x+=0.7){var y=208+R()*1.5;y-=87*Math.exp(-(x-684)/1.0);y-=32*G(x,693,0.7)+25*G(x,701,0.7)+30*G(x,708,0.7)+4*G(x,698,0.6)+3*G(x,733,1.5)+4*G(x,748,2)+5*G(x,845,3)+2*G(x,870,6);d+='L'+x.toFixed(1)+','+Math.max(120,y).toFixed(1);}return d+'L940,222Z';})());

/* FTIR */
S('e1',sm([[39,257],[55,257],[67,260],[75,266],[80,270],[90,269],[97,268],[105,275],[112,272],[120,266],[133,262],[160,258],[190,254],[210,252],[214,256],[217,257],[221,252],[228,252],[231,258],[233,271],[235,258],[240,250],[253,247],[265,246],[270,245],[273,248],[276,245],[290,244],[300,241],[307,244]]));
S('e2',sm([[39,285],[60,286],[65,290],[70,305],[75,322],[85,335],[95,332],[105,322],[110,313],[113,308],[116,312],[119,318],[122,312],[127,305],[133,298],[140,288],[160,285],[187,282],[207,281],[212,287],[217,302],[222,315],[226,325],[230,328],[234,318],[238,295],[242,290],[247,289],[252,300],[256,314],[258,318],[261,310],[264,296],[267,290],[271,292],[273,296],[276,290],[280,287],[284,294],[288,305],[293,300],[300,290],[307,285]]));
S('e3',sm([[39,347],[60,347],[65,350],[72,358],[80,363],[90,365],[100,365],[110,360],[113,356],[116,358],[120,357],[127,356],[140,350],[160,345],[190,340],[207,338],[212,340],[217,346],[222,347],[228,347],[231,350],[233,363],[235,350],[240,343],[246,342],[252,345],[258,355],[261,352],[265,343],[270,343],[275,340],[280,338],[285,340],[290,342],[300,337],[307,335]]));
S('e4',sm([[39,368],[60,369],[65,375],[70,390],[77,405],[85,423],[95,420],[105,405],[110,398],[113,396],[116,400],[119,403],[123,397],[128,392],[134,383],[140,372],[160,369],[187,367],[210,368],[215,378],[220,398],[225,415],[230,423],[234,410],[238,388],[242,380],[247,378],[252,395],[256,410],[258,415],[261,405],[264,385],[267,375],[271,377],[273,381],[276,375],[280,374],[284,383],[288,395],[293,388],[300,375],[307,368]]));

/* XRD */
function th(x){return 10+(x-355)/3.857;}
function xrd(base,pk,nz,lor){return function(x){var t=th(x),y=base(t);for(var i=0;i<pk.length;i++){y-=pk[i][1]*(lor?Lz(t,pk[i][0],pk[i][2]):G(t,pk[i][0],pk[i][2]));}return y+R()*nz;};}
S('f1',fp(xrd(function(t){return 283+(t-10)*0.1;},[[18,4,0.4],[25,21,0.3],[27.5,32,0.3],[43.6,24,0.3],[44.8,17,0.3],[47.5,3,0.5],[50.5,11,0.3],[52.5,7,0.3],[64.2,6,0.35],[68.5,3,0.35],[70.5,6,0.35],[36,2,1]],1.2,true),356,624,0.7));
S('f2',fp(xrd(function(t){return 357-12*Math.exp(-(t-10)/5)+(t-10)*0.02;},[[25,33,0.35],[27.5,52,0.35],[34.8,6,0.35],[43.6,40,0.4],[44.8,18,0.35],[50.5,15,0.4],[52.5,8,0.35],[64.2,9,0.4],[68.5,5,0.45],[70.5,9,0.4],[39.5,3,0.6],[30.5,3,0.6]],1.2,true),356,624,0.7));
S('f3',fp(xrd(function(t){return 385+(t-10)*0.17;},[[15.5,12,0.55],[27.7,20,0.7],[39.5,9,0.7],[48.3,10,1.0],[55.2,2,0.5],[76,2,2],[31,2,1]],1.6,false),356,624,0.7));
S('f4',fp(xrd(function(t){return 413+(t-10)*0.186;},[[15.5,6,0.8],[27.7,12,0.9],[39.5,5,0.9],[48.3,5,1.2],[76,2,2]],1.3,false),356,624,0.8));

/* survey */
S('g1',dense([[669,248],[680,245],[685,242],[687,245],[700,242],[715,238],[719,237],[721,244],[730,243],[745,240],[747,237],[748,262],[749,262],[750,236],[752,264],[760,266],[780,267],[800,268],[815,269],[818,268],[819,242],[820,275],[830,275],[850,274],[870,274],[873,276],[874,255],[876,277],[890,278],[912,279],[913,272],[915,279],[938,281]],1.2,1.2));
S('g2',dense([[669,303],[680,300],[685,297],[687,300],[700,298],[715,294],[719,292],[721,300],[735,298],[746,293],[747,289],[748,315],[749,315],[750,290],[752,316],[770,318],[783,318],[784,305],[786,318],[800,318],[815,318],[818,315],[819,288],[820,322],[840,322],[860,321],[868,319],[872,316],[874,292],[876,325],[890,326],[912,327],[913,320],[915,327],[938,331]],1.2,1.2));
S('g3',dense([[669,352],[680,349],[685,345],[687,349],[700,347],[715,343],[719,342],[721,348],[735,346],[746,343],[747,340],[748,372],[749,372],[750,341],[752,374],[770,375],[800,377],[815,378],[818,377],[819,347],[820,380],[840,380],[860,380],[868,378],[872,378],[874,362],[876,384],[890,385],[912,386],[913,378],[915,386],[938,388]],1.2,1.2));
S('g4',dense([[669,412],[690,409],[700,408],[715,405],[719,404],[721,410],[740,411],[746,410],[748,406],[750,418],[752,409],[754,419],[770,419],[783,419],[784,415],[786,420],[800,420],[815,420],[818,418],[819,392],[820,424],[840,424],[860,424],[868,423],[872,421],[874,393],[876,430],[890,431],[912,432],[913,428],[915,432],[938,433]],1.2,1.2));

/* F1s */
var h1=function(x){return 566-81*G(x,185,12.5);},h2=function(x){return 667-74*G(x,182,12);};
S('h1f',area(h1,function(){return 566;},140,232,1));
S('h2f',area(h2,function(){return 667;},135,230,1));
S('h1d',fp(function(x){return h1(x)+R()*2.2;},42,307,1.3));
S('h2d',fp(function(x){return h2(x)+R()*2.2;},42,307,1.3));
S('h1',fp(h1,42,307,1));S('h2',fp(h2,42,307,1));

/* La3d */
var gi=document.getElementById('iG');
var PF='#eac3ea',PS='#b55ec0',YF='#f5dea8',YS='#c0a028';
function panelI(bg,comps,env){
 for(var i=0;i<comps.length;i++){(function(c){var f=function(x){return bg(x)-c[1]*G(x,c[0],c[2]);};add(gi,area(f,bg,Math.max(358,c[0]-4*c[2]),Math.min(624,c[0]+4*c[2]),1),c[3]=='p'?PF:YF,null,0,0.85);})(comps[i]);}
 var E=function(x){var y=bg(x);for(var i=0;i<comps.length;i++)y-=comps[i][1]*G(x,comps[i][0],comps[i][2]);return y;};
 add(gi,fp(bg,358,624,2),null,'#2aa0d8',1.5);
 for(var i=0;i<comps.length;i++){(function(c){add(gi,fp(function(x){return bg(x)-c[1]*G(x,c[0],c[2]);},Math.max(358,c[0]-4*c[2]),Math.min(624,c[0]+4*c[2]),1),null,c[3]=='p'?PS:YS,1.2);})(comps[i]);}
 add(gi,fp(function(x){return E(x)+R()*2;},358,624,1.2),null,'#555',0.8);
 add(gi,fp(E,358,624,1),null,env,2);
}
panelI(function(x){return 498+(x-357)*25/268;},[[428,15,9,'p'],[457,23,10,'y'],[557,25,10,'p'],[587,32,11,'y']],'#1b3f9e');
panelI(function(x){return 553+(x-357)*15/268;},[[412,4,8,'p'],[445,26,10,'y'],[470,6,18,'y'],[541,4,9,'p'],[574,31,8.5,'y']],'#30b4ec');
panelI(function(x){return 597+(x-357)*21/268;},[[429,14,8,'p'],[456,22,13,'y'],[559,20,9,'p'],[584,27,11,'y']],'#2aa8e4');
panelI(function(x){return 652+(x-357)*20/268;},[[410,3,8,'p'],[443,24,14,'y'],[541,3,9,'p'],[572,33,10,'y']],'#30b4ec');

/* O1s */
var gj=document.getElementById('jG');
function panelJ(base,comps,env,dots){
 var bg=function(){return base;};
 for(var i=0;i<comps.length;i++){(function(c){add(gj,area(function(x){return base-c[1]*G(x,c[0],c[2]);},bg,Math.max(669,c[0]-4*c[2]),Math.min(940,c[0]+4*c[2]),1),c[3],null,0,0.85);})(comps[i]);}
 add(gj,'M669,'+base+'L940,'+base,null,'#3a9a5a',1.5,null,'3 1.5');
 for(var i=0;i<comps.length;i++){(function(c){add(gj,fp(function(x){return base-c[1]*G(x,c[0],c[2]);},Math.max(669,c[0]-4*c[2]),Math.min(940,c[0]+4*c[2]),1),null,c[4],1.8);})(comps[i]);}
 var E=function(x){var y=base;for(var i=0;i<comps.length;i++)y-=comps[i][1]*G(x,comps[i][0],comps[i][2]);return y;};
 add(gj,fp(E,669,940,1),null,env,1.8);
 if(dots)add(gj,fp(E,800,870,1),null,dots,2,null,'1.5 4');
}
panelJ(518,[[833,16,16,'#e6c8ec','#b070c8'],[853,32,11,'#b4d8f0','#20a8e8']],'#1a2a80');
panelJ(570,[[828,20,10,'#bcd4f0','#1f5fd0'],[846,35,8,'#f3dc98','#c8a020']],'#8a4aa8');
panelJ(618,[[828,10,14,'#e6c8ec','#b070c8'],[852,33,12,'#b4d4f0','#1a5ad0']],'#1a3aa0','#e02020');
panelJ(672,[[832,26,12,'#c4e0d4','#20b0e8'],[847,28,7,'#f2d8a8','#b070c8']],'#1a4ab8');
})();
</script>
</body></html>
